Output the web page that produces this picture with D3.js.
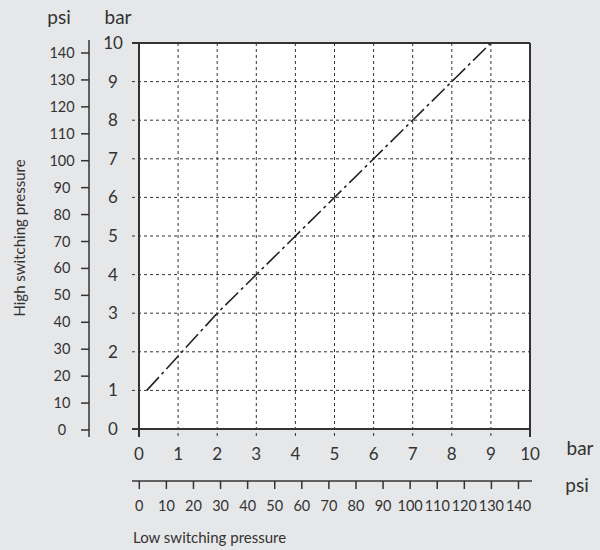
<!DOCTYPE html>
<html>
<head>
<meta charset="utf-8">
<script src="https://cdn.jsdelivr.net/npm/d3@7"></script>
<style>
  body { margin: 0; background: #e6e7e9; }
  svg { display: block; font-family: Lato, "Noto Sans", sans-serif; }
  text { fill: #333; }
</style>
</head>
<body>
<div id="chart"></div>
<script>
// switching pressure line (bar)
const lowBar = [0.2, 2, 9];
const highBar = [1.0, 3, 10];

const barTicks = [0, 1, 2, 3, 4, 5, 6, 7, 8, 9, 10];
const psiTicks = [0, 10, 20, 30, 40, 50, 60, 70, 80, 90, 100, 110, 120, 130, 140];

const width = 600, height = 550;
const ink = '#333';

const svg = d3.select('#chart').append('svg')
    .attr('width', width)
    .attr('height', height);

const xScale = d3.scaleLinear().domain([0, 10]).range([139, 530]);
const yScale = d3.scaleLinear().domain([0, 10]).range([429, 43]);
const psiY = d3.scaleLinear().domain([0, 140]).range([430, 53]);
const psiX = d3.scaleLinear().domain([0, 140]).range([139.3, 518.5]);

// plot background
svg.append('rect')
    .attr('x', xScale(0))
    .attr('y', yScale(10))
    .attr('width', xScale(10) - xScale(0))
    .attr('height', yScale(0) - yScale(10))
    .attr('fill', '#fff');

// grid lines (extend a little outside the frame like ticks)
const grid = svg.append('g')
    .attr('stroke', ink)
    .attr('stroke-width', 1)
    .attr('stroke-dasharray', '3,3');

grid.selectAll('.hgrid')
    .data(barTicks.slice(1, -1))
    .enter()
    .append('line')
    .attr('x1', xScale(0) - 7)
    .attr('x2', xScale(10))
    .attr('y1', d => yScale(d))
    .attr('y2', d => yScale(d));

grid.selectAll('.vgrid')
    .data(barTicks.slice(1, -1))
    .enter()
    .append('line')
    .attr('x1', d => xScale(d))
    .attr('x2', d => xScale(d))
    .attr('y1', yScale(10))
    .attr('y2', yScale(0) + 8);

// frame
const frame = svg.append('g')
    .attr('stroke', ink)
    .attr('stroke-width', 2)
    .attr('fill', 'none');

frame.append('line')
    .attr('x1', xScale(0) - 7).attr('x2', xScale(10))
    .attr('y1', yScale(10)).attr('y2', yScale(10));
frame.append('line')
    .attr('x1', xScale(0) - 7).attr('x2', xScale(10))
    .attr('y1', yScale(0)).attr('y2', yScale(0));
frame.append('line')
    .attr('x1', xScale(0)).attr('x2', xScale(0))
    .attr('y1', yScale(10)).attr('y2', yScale(0) + 8);
frame.append('line')
    .attr('x1', xScale(10)).attr('x2', xScale(10))
    .attr('y1', yScale(10)).attr('y2', yScale(0) + 8);

// bar labels, left
svg.selectAll('.ybar')
    .data(barTicks)
    .enter()
    .append('text')
    .attr('x', 113)
    .attr('y', d => yScale(d) + 6)
    .attr('text-anchor', 'middle')
    .style('font-size', '17px')
    .text(d => d);

// bar labels, bottom
svg.selectAll('.xbar')
    .data(barTicks)
    .enter()
    .append('text')
    .attr('x', d => xScale(d))
    .attr('y', 460)
    .attr('text-anchor', 'middle')
    .style('font-size', '17px')
    .text(d => d);

// psi axis, left
const psiLeft = svg.append('g')
    .attr('stroke', ink)
    .attr('stroke-width', 1.5);

psiLeft.append('line')
    .attr('x1', 89).attr('x2', 89)
    .attr('y1', 40).attr('y2', 437);

psiLeft.selectAll('.tick')
    .data(psiTicks)
    .enter()
    .append('line')
    .attr('x1', 81).attr('x2', 89)
    .attr('y1', d => psiY(d)).attr('y2', d => psiY(d));

svg.selectAll('.ypsi')
    .data(psiTicks)
    .enter()
    .append('text')
    .attr('x', 62)
    .attr('y', d => psiY(d) + 5)
    .attr('text-anchor', 'middle')
    .style('font-size', '14.5px')
    .text(d => d);

// psi axis, bottom
const psiBottom = svg.append('g')
    .attr('stroke', ink)
    .attr('stroke-width', 1.5);

psiBottom.append('line')
    .attr('x1', 132).attr('x2', 532)
    .attr('y1', 481).attr('y2', 481);

psiBottom.selectAll('.tick')
    .data(psiTicks)
    .enter()
    .append('line')
    .attr('x1', d => psiX(d)).attr('x2', d => psiX(d))
    .attr('y1', 481).attr('y2', 489);

svg.selectAll('.xpsi')
    .data(psiTicks)
    .enter()
    .append('text')
    .attr('x', d => psiX(d))
    .attr('y', 511)
    .attr('text-anchor', 'middle')
    .style('font-size', '14.5px')
    .text(d => d);

// unit labels
const units = [
    { t: 'psi', x: 59, y: 24 },
    { t: 'bar', x: 118, y: 24 },
    { t: 'bar', x: 580, y: 455 },
    { t: 'psi', x: 577, y: 492 }
];
svg.selectAll('.unit')
    .data(units)
    .enter()
    .append('text')
    .attr('x', d => d.x)
    .attr('y', d => d.y)
    .attr('text-anchor', 'middle')
    .style('font-size', '19px')
    .text(d => d.t);

// axis titles
svg.append('text')
    .attr('x', 133)
    .attr('y', 543)
    .style('font-size', '15px')
    .text('Low switching pressure');

svg.append('text')
    .attr('transform', 'rotate(-90)')
    .attr('x', -238)
    .attr('y', 25)
    .attr('text-anchor', 'middle')
    .style('font-size', '15px')
    .text('High switching pressure');

// dash-dot line
const line = d3.line()
    .x(d => xScale(d[0]))
    .y(d => yScale(d[1]));

svg.append('path')
    .datum(lowBar.map((v, i) => [v, highBar[i]]))
    .attr('d', line)
    .attr('fill', 'none')
    .attr('stroke', '#222')
    .attr('stroke-width', 1.6)
    .attr('stroke-dasharray', '18,4,3,4');
</script>
</body>
</html>
